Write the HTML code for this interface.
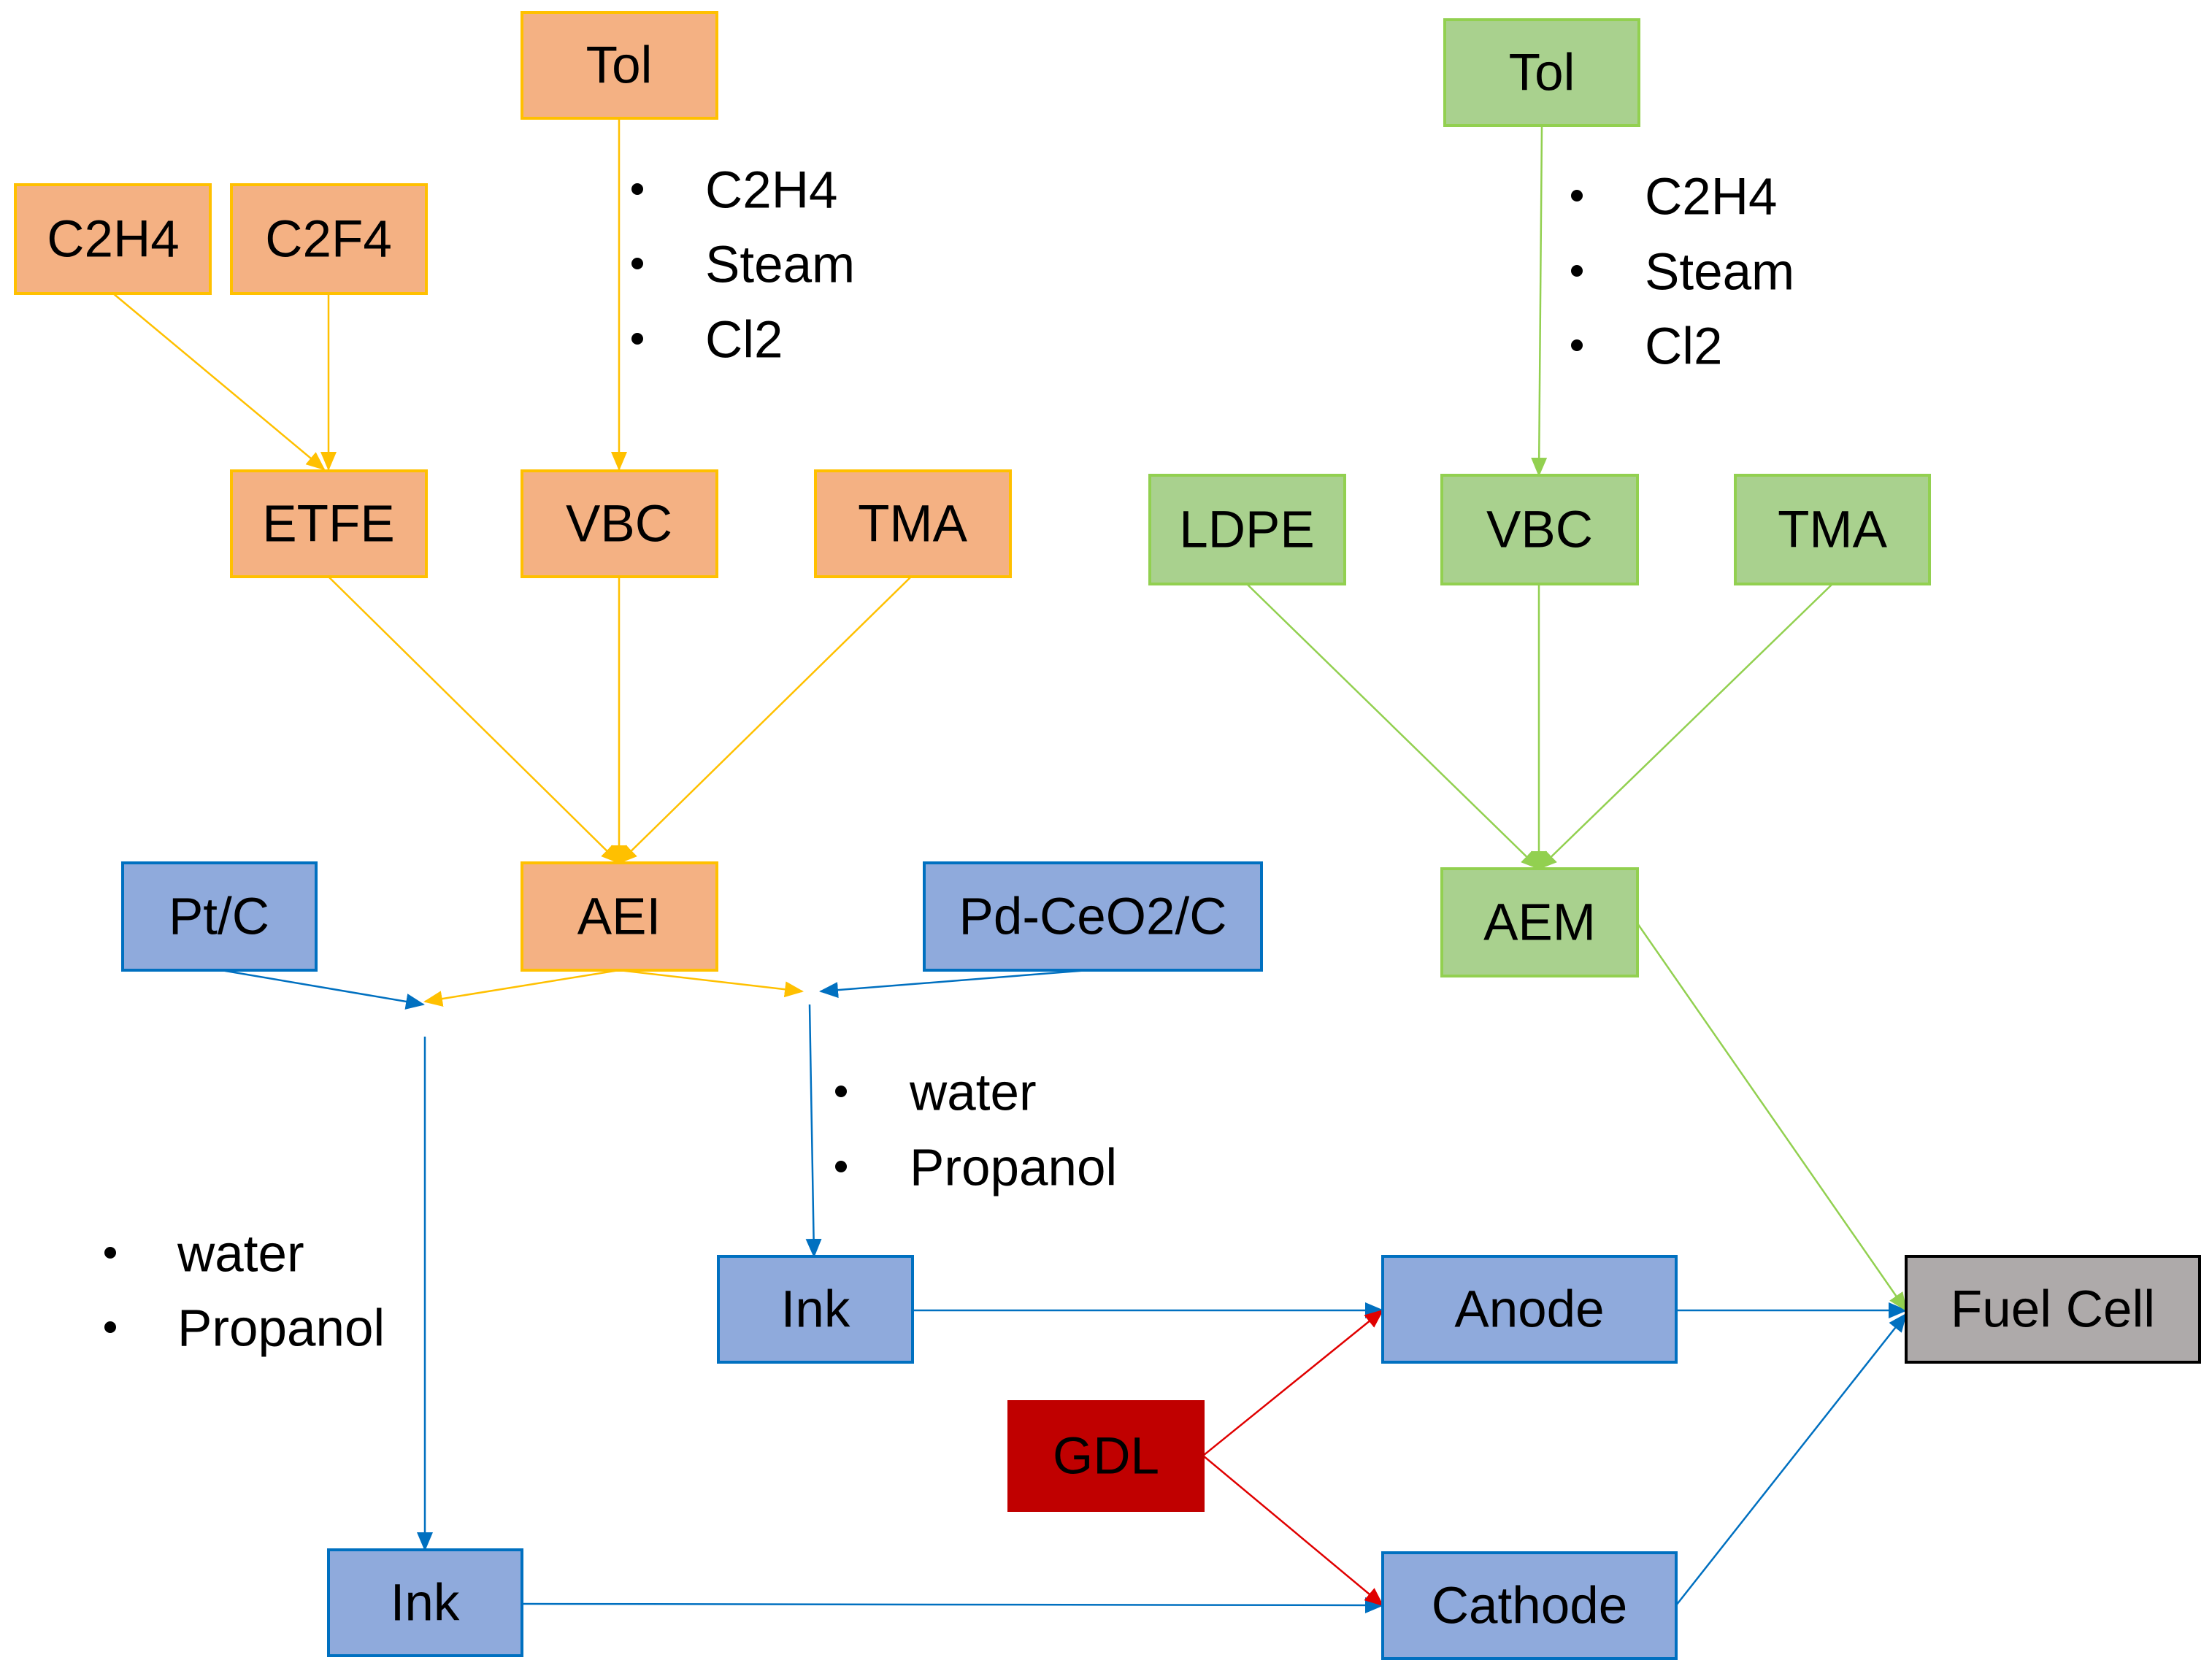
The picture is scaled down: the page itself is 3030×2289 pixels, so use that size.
<!DOCTYPE html>
<html><head><meta charset="utf-8"><style>
html,body{margin:0;padding:0;background:#fff}
svg{display:block}
text{font-family:"Liberation Sans",sans-serif;font-size:71px;fill:#000}
</style></head><body>
<svg width="3030" height="2289" viewBox="0 0 3030 2289" xmlns="http://www.w3.org/2000/svg">
<defs>
<marker id="ao" markerUnits="userSpaceOnUse" markerWidth="26" markerHeight="22" refX="24" refY="11" orient="auto"><path d="M0,0 L26,11 L0,22 Z" fill="#FFC000"/></marker>
<marker id="ab" markerUnits="userSpaceOnUse" markerWidth="26" markerHeight="22" refX="24" refY="11" orient="auto"><path d="M0,0 L26,11 L0,22 Z" fill="#0070C0"/></marker>
<marker id="ar" markerUnits="userSpaceOnUse" markerWidth="26" markerHeight="22" refX="24" refY="11" orient="auto"><path d="M0,0 L26,11 L0,22 Z" fill="#E00000"/></marker>
<marker id="ag" markerUnits="userSpaceOnUse" markerWidth="26" markerHeight="22" refX="24" refY="11" orient="auto"><path d="M0,0 L26,11 L0,22 Z" fill="#92D050"/></marker>
</defs>

<g stroke-width="2.5" fill="none">
<g stroke="#FFC000" marker-end="url(#ao)">
<line x1="155" y1="402" x2="444" y2="643"/>
<line x1="450" y1="402" x2="450" y2="643"/>
<line x1="848" y1="162" x2="848" y2="643"/>
<line x1="450" y1="790" x2="848" y2="1182"/>
<line x1="848" y1="790" x2="848" y2="1182"/>
<line x1="1248" y1="790" x2="848" y2="1182"/>
<line x1="848" y1="1329" x2="582" y2="1372"/>
<line x1="848" y1="1329" x2="1099" y2="1358"/>
</g>
<g stroke="#0070C0" marker-end="url(#ab)">
<line x1="303" y1="1329" x2="580" y2="1376"/>
<line x1="1491" y1="1329" x2="1124" y2="1358"/>
<line x1="582" y1="1420" x2="582" y2="2123"/>
<line x1="1109" y1="1376" x2="1115" y2="1721"/>
<line x1="1250" y1="1795" x2="1894" y2="1795"/>
<line x1="715" y1="2197" x2="1894" y2="2199"/>
<line x1="2296" y1="1795" x2="2611" y2="1795"/>
<line x1="2296" y1="2199" x2="2611" y2="1800"/>
</g>
<g stroke="#E00000" marker-end="url(#ar)">
<line x1="1648" y1="1994" x2="1894" y2="1795"/>
<line x1="1648" y1="1994" x2="1894" y2="2199"/>
</g>
<g stroke="#92D050" marker-end="url(#ag)">
<line x1="2112" y1="172" x2="2108" y2="651"/>
<line x1="1708" y1="800" x2="2108" y2="1190"/>
<line x1="2108" y1="800" x2="2108" y2="1190"/>
<line x1="2510" y1="800" x2="2108" y2="1190"/>
<line x1="2243" y1="1265" x2="2611" y2="1795"/>
</g>
</g>

<g stroke-width="4">
<g fill="#F4B183" stroke="#FFC000">
<rect x="715" y="17" width="267" height="145"/>
<rect x="21" y="253" width="267" height="149"/>
<rect x="317" y="253" width="267" height="149"/>
<rect x="317" y="645" width="267" height="145"/>
<rect x="715" y="645" width="267" height="145"/>
<rect x="1117" y="645" width="267" height="145"/>
<rect x="715" y="1182" width="267" height="147"/>
</g>
<g fill="#8FAADC" stroke="#0070C0">
<rect x="168" y="1182" width="265" height="147"/>
<rect x="1266" y="1182" width="462" height="147"/>
<rect x="984" y="1721" width="266" height="145"/>
<rect x="1894" y="1721" width="402" height="145"/>
<rect x="450" y="2123" width="265" height="145"/>
<rect x="1894" y="2127" width="402" height="145"/>
</g>
<g fill="#A9D18E" stroke="#92D050">
<rect x="1979" y="27" width="266" height="145"/>
<rect x="1575" y="651" width="267" height="149"/>
<rect x="1975" y="651" width="268" height="149"/>
<rect x="2377" y="651" width="266" height="149"/>
<rect x="1975" y="1190" width="268" height="147"/>
</g>
<rect x="2611" y="1721" width="402" height="145" fill="#AEAAAA" stroke="#000"/>
<rect x="1382" y="1920" width="266" height="149" fill="#C00000" stroke="#C00000"/>
</g>

<g text-anchor="middle" dominant-baseline="central">
<text x="848" y="90">Tol</text>
<text x="155" y="328">C2H4</text>
<text x="450" y="328">C2F4</text>
<text x="450" y="718">ETFE</text>
<text x="848" y="718">VBC</text>
<text x="1250" y="718">TMA</text>
<text x="848" y="1256">AEI</text>
<text x="300" y="1256">Pt/C</text>
<text x="1497" y="1256">Pd-CeO2/C</text>
<text x="1117" y="1794">Ink</text>
<text x="2095" y="1794">Anode</text>
<text x="2812" y="1794">Fuel Cell</text>
<text x="1515" y="1995">GDL</text>
<text x="582" y="2196">Ink</text>
<text x="2095" y="2200">Cathode</text>
<text x="2112" y="100">Tol</text>
<text x="1708" y="726">LDPE</text>
<text x="2109" y="726">VBC</text>
<text x="2510" y="726">TMA</text>
<text x="2109" y="1264">AEM</text>
</g>

<g dominant-baseline="central">
<text x="966" y="261">C2H4</text><text x="966" y="363">Steam</text><text x="966" y="466">Cl2</text>
<text x="2253" y="270">C2H4</text><text x="2253" y="373">Steam</text><text x="2253" y="475">Cl2</text>
<text x="1246" y="1497">water</text><text x="1246" y="1600">Propanol</text>
<text x="243" y="1718">water</text><text x="243" y="1820">Propanol</text>
</g>
<g fill="#000">
<circle cx="873" cy="259" r="8"/><circle cx="873" cy="361" r="8"/><circle cx="873" cy="464" r="8"/>
<circle cx="2160" cy="268" r="8"/><circle cx="2160" cy="371" r="8"/><circle cx="2160" cy="473" r="8"/>
<circle cx="1152" cy="1495" r="8"/><circle cx="1152" cy="1598" r="8"/>
<circle cx="151" cy="1716" r="8"/><circle cx="151" cy="1818" r="8"/>
</g>
</svg>
</body></html>
